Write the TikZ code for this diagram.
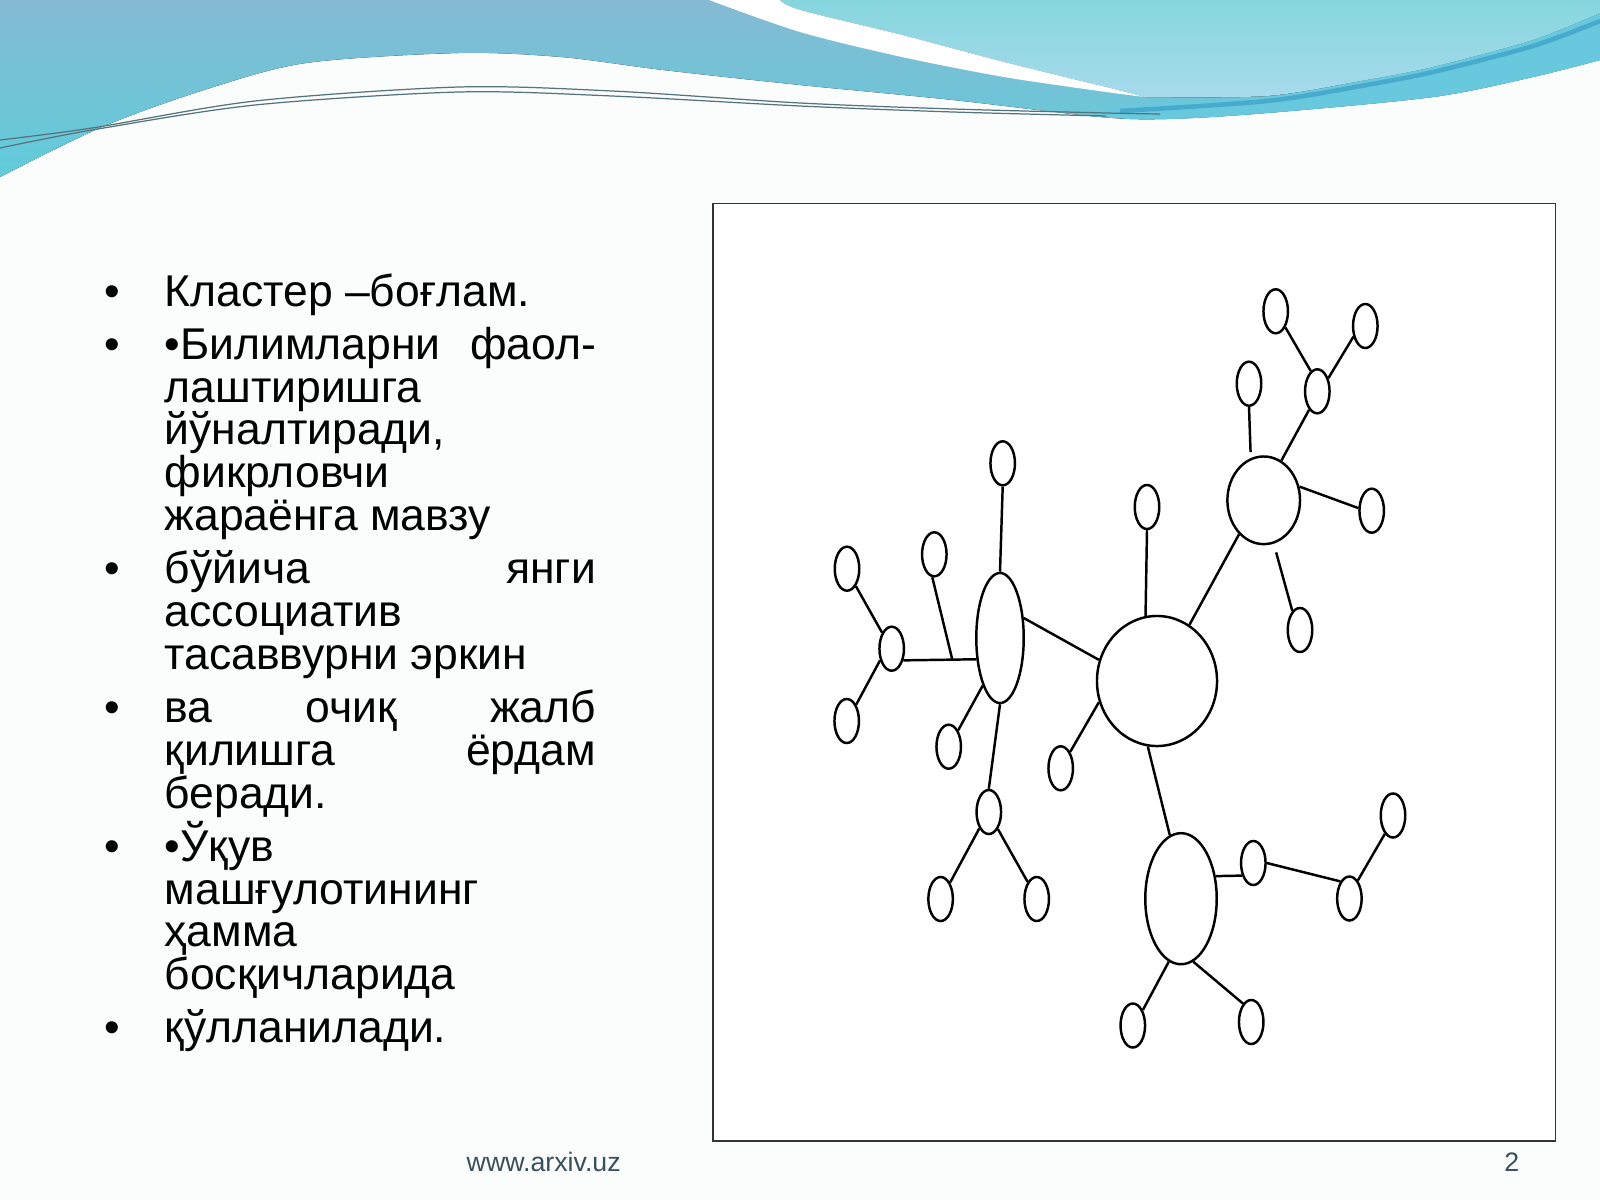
\documentclass[tikz,border=0pt]{standalone}
\usepackage{fontspec}
\newfontfamily\arialf{Liberation Sans}
\usetikzlibrary{shapes.geometric,calc}
\definecolor{pagebg}{RGB}{251,252,252}
\definecolor{hdrA}{RGB}{132,186,212}
\definecolor{hdrB}{RGB}{96,204,218}
\definecolor{hdrC}{RGB}{134,214,222}
\definecolor{hdrD}{RGB}{168,218,236}
\definecolor{swoosh}{RGB}{104,200,222}
\definecolor{swooshdark}{RGB}{72,170,205}
\definecolor{thinline}{RGB}{85,115,125}
\definecolor{foot}{RGB}{55,80,92}
\begin{document}
\begin{tikzpicture}[x=0.01cm,y=-0.01cm,
  txt/.style={anchor=base west, inner sep=0pt, font=\arialf\fontsize{12.65pt}{14pt}\selectfont},
  footer/.style={anchor=base west, inner sep=0pt, text=foot, font=\arialf\fontsize{7.6pt}{9pt}\selectfont},
  bigell/.style={ellipse, draw=black, line width=0.7pt, fill=white, inner sep=0pt},
  smell/.style={ellipse, draw=black, line width=0.7pt, fill=white, inner sep=0pt, minimum width=0.245cm, minimum height=0.44cm},
  link/.style={draw=black, line width=0.7pt}]
\useasboundingbox (0,0) rectangle (1600,1200);
\fill[pagebg] (0,0) rectangle (1600,1200);

% ---------- header waves ----------
\fill[top color=hdrA, bottom color=hdrB] (0,0) -- (1600,0) -- plot[smooth] coordinates {(1600,60) (1533,77) (1433,97) (1267,113) (1167,119) (1100,117) (953,100) (800,85) (663,70) (561,57) (459,53) (306,63) (204,90) (102,127) (0,177)} -- cycle;
\fill[top color=hdrC, bottom color=hdrD] plot[smooth] coordinates {(780,0) (800,10) (902,35) (1004,62) (1106,87) (1145,97)} -- plot[smooth] coordinates {(1145,97) (1267,96) (1361,81) (1433,67) (1533,40) (1600,13)} -- (1600,0) -- cycle;
\fill[white] plot[smooth] coordinates {(709,0) (800,32) (902,57) (1004,77) (1106,92) (1145,97)} -- plot[smooth] coordinates {(1106,87) (1004,62) (902,35) (800,10) (780,0)} -- cycle;
\fill[swoosh] plot[smooth] coordinates {(1090,112) (1145,104) (1267,97) (1361,81) (1433,67) (1533,40) (1600,13)} -- plot[smooth] coordinates {(1600,60) (1533,77) (1433,97) (1267,113) (1167,119) (1090,116)} -- cycle;
\draw[swooshdark, line width=1.3pt] plot[smooth] coordinates {(1120,111) (1267,101) (1361,86) (1433,72) (1533,46) (1600,21)};
\draw[thinline, line width=0.35pt] plot[smooth] coordinates {(0,140) (92,128) (255,101) (459,87) (612,91) (800,103) (953,109) (1106,113) (1160,114)};
\draw[thinline, line width=0.35pt] plot[smooth] coordinates {(0,148) (92,130) (255,105) (459,92) (612,96) (800,106) (953,112) (1106,116)};

% ---------- text ----------
\node[txt] (b1) at (104,306.1) {•};
\node[txt] (t1) at (164,306.1) {Кластер –боғлам.};
\node[txt] (b2) at (104,359.2) {•};
\node[txt] (t2) at (164,359.2) {\hbox to 4.31cm{•Билимларни\hfill фаол-}};
\node[txt] (t3) at (164,402.0) {лаштиришга};
\node[txt] (t4) at (164,444.9) {йўналтиради,};
\node[txt] (t5) at (164,487.8) {фикрловчи};
\node[txt] (t6) at (164,530.6) {жараёнга мавзу};
\node[txt] (b3) at (104,583.7) {•};
\node[txt] (t7) at (164,583.7) {\hbox to 4.31cm{бўйича\hfill янги}};
\node[txt] (t8) at (164,626.5) {ассоциатив};
\node[txt] (t9) at (164,669.4) {тасаввурни эркин};
\node[txt] (b4) at (104,722.4) {•};
\node[txt] (t10) at (164,722.4) {\hbox to 4.31cm{ва\hfill очиқ\hfill жалб}};
\node[txt] (t11) at (164,765.3) {\hbox to 4.31cm{қилишга\hfill ёрдам}};
\node[txt] (t12) at (164,808.2) {беради.};
\node[txt] (b5) at (104,861.2) {•};
\node[txt] (t13) at (164,861.2) {•Ўқув};
\node[txt] (t14) at (164,904.1) {машғулотининг};
\node[txt] (t15) at (164,946.9) {ҳамма};
\node[txt] (t16) at (164,989.8) {босқичларида};
\node[txt] (b6) at (104,1042.9) {•};
\node[txt] (t17) at (164,1042.9) {қўлланилади.};

\node[footer] (url) at (466,1171) {www.arxiv.uz};
\node[footer, anchor=base] (pnum) at (1511.7,1171) {2};

% ---------- frame ----------
\draw[fill=white, draw=black!80, line width=0.45pt] (712.7,203.3) rectangle (1555.3,1140.7);

% ---------- cluster nodes ----------
\node[bigell, minimum width=1.2cm, minimum height=1.3cm] (C) at (1157,681) {};
\node[bigell, minimum width=0.474cm, minimum height=1.3cm] (L) at (1000,638) {};
\node[bigell, minimum width=0.726cm, minimum height=0.876cm] (R) at (1263.7,500.3) {};
\node[bigell, minimum width=0.714cm, minimum height=1.31cm] (B) at (1181,898.7) {};

\node[smell] (Lt) at (1002.7,463.3) {};
\node[smell] (Ct) at (1147,507) {};
\node[smell] (L1) at (847,568.7) {};
\node[smell] (L2) at (891.7,648.7) {};
\node[smell] (L3) at (846.7,721) {};
\node[smell] (L4) at (934.3,554.3) {};
\node[smell] (L5) at (948.7,746.7) {};
\node[smell] (Cs) at (1060.7,768.3) {};
\node[smell] (Lb) at (988.8,812) {};
\node[smell] (Lb1) at (940.6,899) {};
\node[smell] (Lb2) at (1036.7,899) {};
\node[smell] (R1) at (1317.3,391.3) {};
\node[smell] (R1a) at (1275.7,311.3) {};
\node[smell] (R1b) at (1365.3,326) {};
\node[smell] (R2) at (1249,383.7) {};
\node[smell] (R3) at (1371.7,510.7) {};
\node[smell] (R4) at (1300,630) {};
\node[smell] (B1) at (1253.3,863) {};
\node[smell] (B2) at (1349.4,898.5) {};
\node[smell] (B3) at (1393,815.5) {};
\node[smell] (B4) at (1132.8,1025.5) {};
\node[smell] (B5) at (1251.2,1022) {};

% ---------- connectors ----------
\coordinate (J1) at ($(L2.-45)!0.67!(L.222)$);
\draw[link] (Lt.south) -- (L.north);
\draw[link] (L.40) -- (C.160);
\draw[link] (Ct.south) -- (C.100);
\draw[link] (C.200) -- (Cs.60);
\draw[link] (C.262) -- (B.100);
\draw[link] (L2.-45) -- (L.222);
\draw[link] (L4.265) -- (J1);
\draw[link] (L1.297) -- (L2.121);
\draw[link] (L3.60) -- (L2.225);
\draw[link] (L.250) -- (L5.60);
\draw[link] (L.south) -- (Lb.north);
\draw[link] (Lb.240) -- (Lb1.60);
\draw[link] (Lb.298) -- (Lb2.118);
\draw[link] (C.60) -- (R.234);
\draw[link] (R.66) -- (R1.246);
\draw[link] (R1.108) -- (R1a.301);
\draw[link] (R1.50) -- (R1b.222);
\draw[link, shorten >=0.06cm] (R2.south) -- (R.107);
\draw[link] (R.21) -- (R3.169);
\draw[link, shorten <=0.09cm] (R.283) -- (R4.112);
\draw[link] (B.33) -- (B1.228);
\draw[link] (B1.east) -- (B2.118);
\draw[link] (B2.65) -- (B3.246);
\draw[link] (B.259) -- (B4.57);
\draw[link] (B.281) -- (B5.114);
\end{tikzpicture}
\end{document}
